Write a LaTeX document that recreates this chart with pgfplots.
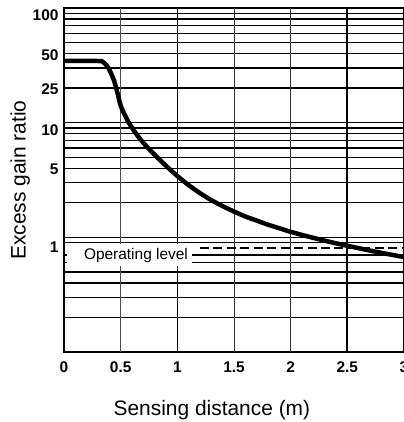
\documentclass[border=0pt]{standalone}
\usepackage{fontspec}
\setmainfont{Liberation Sans}
\usepackage{pgfplots}
\pgfplotsset{compat=1.18}
\begin{document}
\begin{tikzpicture}
\begin{axis}[
  scale only axis, width=340bp, height=344bp,
  xmin=0, xmax=3, ymode=log, ymin=0.1, ymax=100,
  xtick={0,0.5,1,1.5,2,2.5,3}, xticklabels={0,0.5,1,1.5,2,2.5,3},
  ytick={0.818,3.9,8.52,19.4,39,86.9}, yticklabels={1,5,10,25,50,100},
  minor ytick={0.2,0.3,0.4,0.5,0.6,0.7,0.9,1,2,3,4,5,6,7,8,9,10,20,30,40,50,60,70,80,90},
  yminorgrids=true, ymajorgrids=false, xmajorgrids=false,
  minor grid style={black, line width=1.35pt},
  major tick length=0pt, minor tick length=0pt,
  axis line style={black, line width=2pt},
  tick label style={font=\fontsize{15.5}{18}\selectfont\bfseries},
  xticklabel style={anchor=center, yshift=-15bp},
  yticklabel style={xshift=-2bp},
  xlabel={Sensing distance (m)}, ylabel={Excess gain ratio},
  label style={font=\fontsize{21}{24}\selectfont},
  xlabel style={at={(axis description cs:0.435,-0.169)}, anchor=center},
  ylabel style={at={(axis description cs:-0.129,0.5)}, anchor=center},
]
\coordinate (O) at (rel axis cs:0,0);
\coordinate (T) at (rel axis cs:1,1);
\draw[gray!60!black, line width=0.7pt] (axis cs:0.5,0.1) -- (axis cs:0.5,100);
\draw[black, line width=1.4pt] (axis cs:1,0.1) -- (axis cs:1,100);
\draw[black!80, line width=0.9pt] (axis cs:1.5,0.1) -- (axis cs:1.5,100);
\draw[black!80, line width=0.9pt] (axis cs:2,0.1) -- (axis cs:2,100);
\draw[black, line width=2pt] (axis cs:2.5,0.1) -- (axis cs:2.5,100);
\fill[white] (axis cs:0.03,0.56) rectangle (axis cs:1.13,0.87);
\node[font=\fontsize{15.5}{18}\selectfont] at (axis cs:0.635,0.70) {Operating level};
\draw[black, line width=2pt, dash pattern=on 9pt off 4.5pt] (axis cs:1.2,0.8) -- (axis cs:3,0.8);
\addplot[black, line width=4.5pt, smooth, tension=0.5] coordinates {
(0,34.5) (0.30,34.5) (0.34,34) (0.37,32) (0.40,29) (0.44,23.5) (0.47,18.5) (0.50,14.1)
(0.55,10.96) (0.60,9.02) (0.67,7.24) (0.75,5.89) (0.83,4.90) (0.91,4.12) (1.00,3.43)
(1.10,2.85) (1.20,2.43) (1.30,2.11) (1.40,1.87) (1.50,1.68) (1.60,1.52) (1.70,1.40)
(1.80,1.29) (1.90,1.20) (2.00,1.117) (2.20,0.989) (2.40,0.887) (2.60,0.804)
(2.80,0.733) (3.00,0.673)
};
\end{axis}
\pgfresetboundingbox
\path[use as bounding box] ([shift={(-64bp,-70bp)}]O) rectangle ([shift={(0bp,8bp)}]T);
\end{tikzpicture}
\end{document}
